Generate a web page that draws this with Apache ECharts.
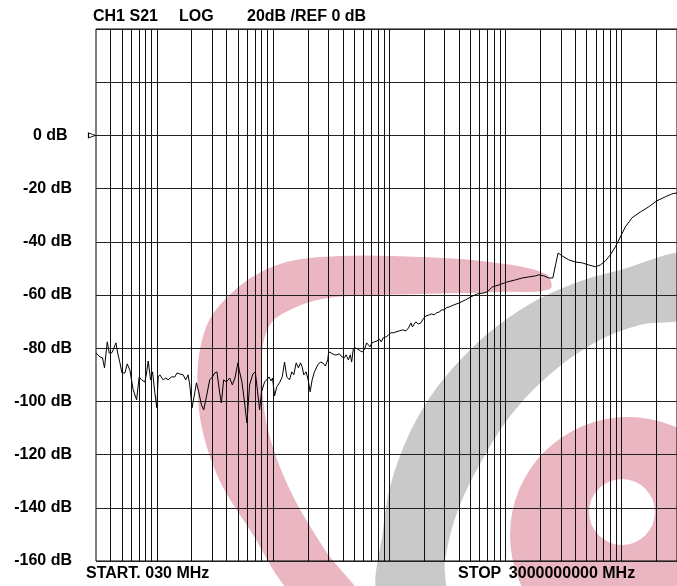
<!DOCTYPE html>
<html>
<head>
<meta charset="utf-8">
<title>CH1 S21 LOG</title>
<script src="https://cdn.jsdelivr.net/npm/echarts@6/dist/echarts.min.js"></script>
<style>
  html, body { margin: 0; padding: 0; background: #fff; }
  #chart { width: 677px; height: 586px; }
</style>
</head>
<body>
<div id="chart"></div>
<script>
// sweep points (frequency in MHz, S21 in dB)
const freqMHz = [
  0.0300, 0.0325, 0.0341, 0.0355, 0.0375, 0.0390, 0.0409, 0.0422, 0.0445, 0.0461,
  0.0482, 0.0502, 0.0532, 0.0557, 0.0587, 0.0627, 0.0671, 0.0706, 0.0740, 0.0790,
  0.0817, 0.0844, 0.0885, 0.0920, 0.0963, 0.1002, 0.1028, 0.1063, 0.1134, 0.1197,
  0.1252, 0.1339, 0.1430, 0.1496, 0.1578, 0.1684, 0.1777, 0.1860, 0.1923, 0.2013,
  0.2123, 0.2195, 0.2297, 0.2423, 0.2536, 0.2675, 0.2855, 0.3012, 0.3153, 0.3298,
  0.3480, 0.3598, 0.3765, 0.3972, 0.4240, 0.4473, 0.4709, 0.4997, 0.5167, 0.5407,
  0.5703, 0.5967, 0.6293, 0.6717, 0.7046, 0.7374, 0.7671, 0.7980, 0.8466, 0.8809,
  0.9254, 0.9626, 0.9916, 1.032, 1.080, 1.139, 1.202, 1.258, 1.316, 1.388,
  1.453, 1.511, 1.585, 1.658, 1.725, 1.784, 1.841, 1.931, 2.009, 2.090,
  2.174, 2.275, 2.428, 2.561, 2.681, 2.827, 2.959, 3.018, 3.166, 3.379,
  3.564, 3.730, 3.933, 4.117, 4.257, 4.455, 4.634, 4.755, 4.916, 5.115,
  5.353, 5.648, 5.911, 6.148, 6.397, 6.614, 6.841, 7.117, 7.449, 7.855,
  8.219, 8.549, 8.895, 9.384, 9.879, 10.36, 10.91, 11.43, 12.20, 13.03,
  13.93, 14.67, 15.38, 15.88, 16.42, 16.98, 17.77, 18.74, 19.62, 20.69,
  22.09, 23.29, 24.38, 25.51, 26.91, 28.39, 29.70, 31.09, 32.79, 36.18,
  39.96, 45.62, 50.36, 57.36, 65.51, 69.92, 77.17, 88.11, 103.8, 122.6,
  139.6, 159.4, 182.0, 194.2, 214.4, 236.7, 256.2, 270.2, 284.4, 307.8,
  351.5, 401.3, 457.0, 521.7, 595.9, 657.5, 725.8, 801.3, 884.5, 976.2,
  1078, 1228, 1450, 1708, 2012, 2376, 2707, 3000
];
const s21dB = [
  -81.8, -83.3, -83.6, -87.4, -77.6, -81.8, -81.8, -80.6, -78.0, -81.8,
  -85.5, -89.3, -89.3, -85.9, -88.2, -95.7, -99.4, -90.8, -91.9, -92.7,
  -89.3, -84.8, -91.9, -88.9, -96.8, -102.4, -90.8, -90.0, -91.9, -91.2,
  -91.9, -90.8, -90.8, -89.3, -89.7, -90.0, -91.9, -90.0, -93.8, -102.4,
  -96.8, -93.0, -96.4, -101.3, -103.2, -98.3, -91.9, -90.8, -89.3, -88.9,
  -96.8, -100.6, -91.9, -92.7, -91.2, -93.8, -91.2, -85.5, -88.9, -92.7,
  -100.6, -108.1, -93.8, -89.7, -88.9, -96.4, -103.2, -96.4, -92.7, -91.9,
  -90.8, -92.3, -91.2, -97.9, -94.5, -93.0, -90.8, -85.2, -90.8, -91.9,
  -88.9, -90.0, -85.5, -87.4, -85.5, -87.0, -90.0, -88.9, -91.9, -96.4,
  -91.9, -88.9, -86.3, -85.2, -85.5, -86.7, -84.4, -81.4, -81.8, -82.5,
  -82.5, -82.1, -83.3, -83.6, -82.5, -84.4, -82.5, -85.2, -80.3, -79.9,
  -80.3, -81.0, -81.4, -80.3, -78.0, -78.4, -79.5, -78.0, -77.6, -77.3,
  -76.5, -77.6, -76.1, -75.8, -75.0, -74.2, -74.2, -73.9, -73.5, -73.1,
  -73.5, -72.4, -70.5, -72.0, -70.9, -70.1, -70.9, -70.5, -69.0, -67.9,
  -67.5, -67.1, -67.5, -66.7, -66.4, -65.6, -65.6, -64.8, -64.5, -63.7,
  -63.0, -61.8, -60.7, -59.6, -59.2, -58.8, -57.0, -56.2, -55.1, -54.3,
  -53.6, -53.2, -52.8, -52.4, -52.8, -53.6, -53.6, -48.7, -44.2, -45.3,
  -46.8, -47.6, -47.9, -48.7, -49.4, -48.7, -47.2, -44.9, -41.9, -38.2,
  -34.4, -31.0, -28.8, -26.9, -24.6, -23.1, -22.0, -21.6
];

const startMHz = 0.03;
const stopMHz = 3000;
const refLevelDB = 0;
const dbMin = -160;
const dbMax = 40;
const dbPerDiv = 20;

const headerTexts = ['CH1 S21', 'LOG', '20dB /REF 0 dB'];
const startLabel = 'START. 030 MHz';
const stopLabel = 'STOP';
const stopValue = '3000000000 MHz';

// log grid: 1..9 in every decade between start and stop
const gridFreqs = [];
for (let decade = 0.01; decade <= 1000; decade *= 10) {
  for (let m = 1; m <= 9; m++) {
    const f = +(m * decade).toPrecision(3);
    if (f > startMHz && f < stopMHz) gridFreqs.push(f);
  }
}

const FONT = '"Liberation Sans", Arial, sans-serif';
const pink = '#eab6c1';
const grey = '#c9c9c9';

// the faded logo behind the screen, kept on its own bottom layer
const watermark = [
  {
    type: 'polygon', zlevel: 0, silent: true,
    shape: {
      smooth: 0.35,
      points: [
        [300, 600], [250, 530], [215, 470], [198, 400], [205, 330], [235, 290],
        [280, 264], [340, 256], [420, 257], [490, 262], [546, 274], [550, 289],
        [500, 292], [420, 294], [350, 296], [317, 300], [292, 309], [272, 322],
        [263, 345], [262, 380], [268, 430], [290, 490], [325, 550], [360, 600],
      ],
    },
    style: { fill: pink },
  },
  {
    type: 'polygon', zlevel: 0, silent: true,
    shape: {
      smooth: 0.35,
      points: [
        [380, 600], [383, 530], [395, 470], [425, 405], [470, 350], [520, 310],
        [570, 285], [620, 270], [690, 255], [690, 315], [640, 325], [600, 340],
        [555, 370], [515, 410], [485, 455], [458, 510], [445, 560], [442, 600],
      ],
    },
    style: { fill: grey },
  },
  {
    type: 'circle', zlevel: 0, z: 1, silent: true,
    shape: { cx: 628, cy: 535, r: 118 },
    style: { fill: pink },
  },
  {
    type: 'circle', zlevel: 0, z: 2, silent: true,
    shape: { cx: 622, cy: 512, r: 33 },
    style: { fill: '#fff' },
  },
];

function label(text, x, y, align) {
  return {
    type: 'text', zlevel: 1, x: x, y: y, silent: true,
    style: {
      text: text,
      font: 'bold 16px ' + FONT,
      fill: '#000',
      align: align || 'left',
      verticalAlign: 'middle',
    },
  };
}

const chart = echarts.init(document.getElementById('chart'));

const option = {
  animation: false,
  backgroundColor: '#fff',
  grid: {
    zlevel: 1,
    left: 96,
    right: -2,
    top: 29,
    bottom: 25,
    show: true,
    borderColor: '#000',
    borderWidth: 1,
    backgroundColor: 'transparent',
  },
  xAxis: {
    zlevel: 1,
    type: 'log',
    logBase: 10,
    min: startMHz,
    max: stopMHz,
    axisLine: { show: false },
    axisTick: { show: false },
    axisLabel: { show: false },
    splitLine: { show: false },
  },
  yAxis: {
    zlevel: 1,
    type: 'value',
    min: dbMin,
    max: dbMax,
    interval: dbPerDiv,
    axisLine: { show: false },
    axisTick: { show: false },
    axisLabel: {
      margin: 24,
      color: '#000',
      fontFamily: FONT,
      fontWeight: 'bold',
      fontSize: 16,
      padding: [0, 0, 8, 0],
      formatter: (v) => {
        if (v > refLevelDB) return '';
        return v === refLevelDB ? v + ' dB ' : v + ' dB';
      },
    },
    splitLine: { show: true, lineStyle: { color: '#222', width: 1 } },
  },
  graphic: watermark.concat([
    label(headerTexts[0], 93, 17),
    label(headerTexts[1], 179, 17),
    label(headerTexts[2], 247, 17),
    label(startLabel, 86, 574),
    label(stopLabel, 458, 574),
    label(stopValue, 572, 574, 'center'),
  ]),
  series: [
    {
      name: 'grid',
      type: 'line',
      zlevel: 1,
      data: [],
      silent: true,
      markLine: {
        silent: true,
        symbol: ['none', 'none'],
        label: { show: false },
        lineStyle: { color: '#111', width: 1, type: 'solid' },
        emphasis: { disabled: true },
        data: gridFreqs.map((f) => ({ xAxis: f })),
      },
    },
    {
      name: 'S21',
      type: 'line',
      zlevel: 1,
      data: freqMHz.map((f, i) => [f, s21dB[i]]),
      showSymbol: false,
      symbol: 'none',
      lineStyle: { color: '#000', width: 1 },
      markPoint: {
        silent: true,
        symbol: 'triangle',
        symbolRotate: -90,
        symbolSize: [5, 7],
        symbolOffset: [-4, 0],
        label: { show: false },
        itemStyle: { color: '#fff', borderColor: '#000', borderWidth: 1 },
        data: [{ coord: [startMHz, refLevelDB] }],
      },
    },
  ],
};

chart.setOption(option);
</script>
</body>
</html>
